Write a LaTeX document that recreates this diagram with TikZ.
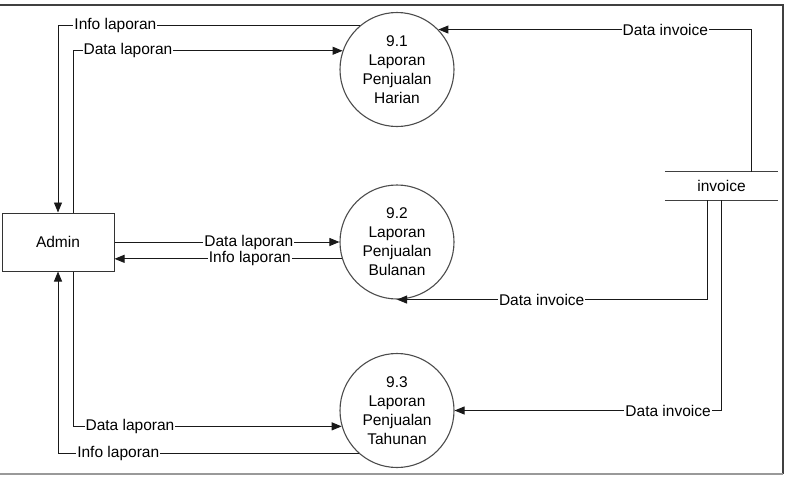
\documentclass[tikz,border=0pt]{standalone}
\usepackage{fontspec}
\setmainfont{Liberation Sans}
\usetikzlibrary{arrows.meta}
\begin{document}
\begin{tikzpicture}[x=1pt,y=-1pt,
  every node/.style={font=\fontsize{15.5}{19}\selectfont},
  proc/.style={circle,draw=black!70,line width=1.1pt,minimum size=114pt,inner sep=0pt,align=center},
  ent/.style={rectangle,draw=black!80,line width=1pt,minimum width=112pt,minimum height=58pt,inner sep=0pt},
  store/.style={rectangle,minimum width=113pt,minimum height=28pt,inner sep=0pt},
  flow/.style={draw=black!90,line width=0.9pt,-{Triangle[length=10pt,width=8pt]}},
  lbl/.style={fill=white,inner sep=1pt}]
\useasboundingbox (0,0) rectangle (787,480);
% frame
\draw[draw=black!75,line width=1.5pt] (0,5) -- (783,5) -- (783,474);
\draw[draw=black!40,line width=2pt] (0,474) -- (783,474);
% nodes
\node[ent] (admin) at (58,242) {Admin};
\node[proc] (c1) at (397,69.5) {9.1\\Laporan\\Penjualan\\Harian};
\node[proc] (c2) at (397,242) {9.2\\Laporan\\Penjualan\\Bulanan};
\node[proc] (c3) at (397,410.5) {9.3\\Laporan\\Penjualan\\Tahunan};
\node[store] (inv) at (721.5,186) {invoice};
\draw[draw=black!75,line width=1pt] (inv.north west) -- (inv.north east);
\draw[draw=black!75,line width=1pt] (inv.south west) -- (inv.south east);
% flows
\draw[flow] (c1.130) -| node[lbl,pos=0.405]{Info laporan} (admin.north);
\draw[flow] ([xshift=15pt]admin.north) |- node[lbl,pos=0.602]{Data laporan} (c1.161);
\draw[flow] ([xshift=29.5pt]inv.north) |- node[lbl,pos=0.637]{Data invoice} (c1.44);
\draw[flow] (admin.east) -- node[lbl,pos=0.597]{Data laporan} (c2.west);
\draw[flow] (c2.197) -- node[lbl,pos=0.405]{Info laporan} (admin.east |- c2.197);
\draw[flow] ([xshift=-14pt]inv.south) |- node[lbl,pos=0.767]{Data invoice} (c2.south);
\draw[flow] (inv.south) |- node[lbl,pos=0.6]{Data invoice} (c3.east);
\draw[flow] ([xshift=15pt]admin.south) |- node[lbl,pos=0.606]{Data laporan} (c3.196);
\draw[flow] (c3.229) -| node[lbl,pos=0.40]{Info laporan} (admin.south);
\end{tikzpicture}
\end{document}
